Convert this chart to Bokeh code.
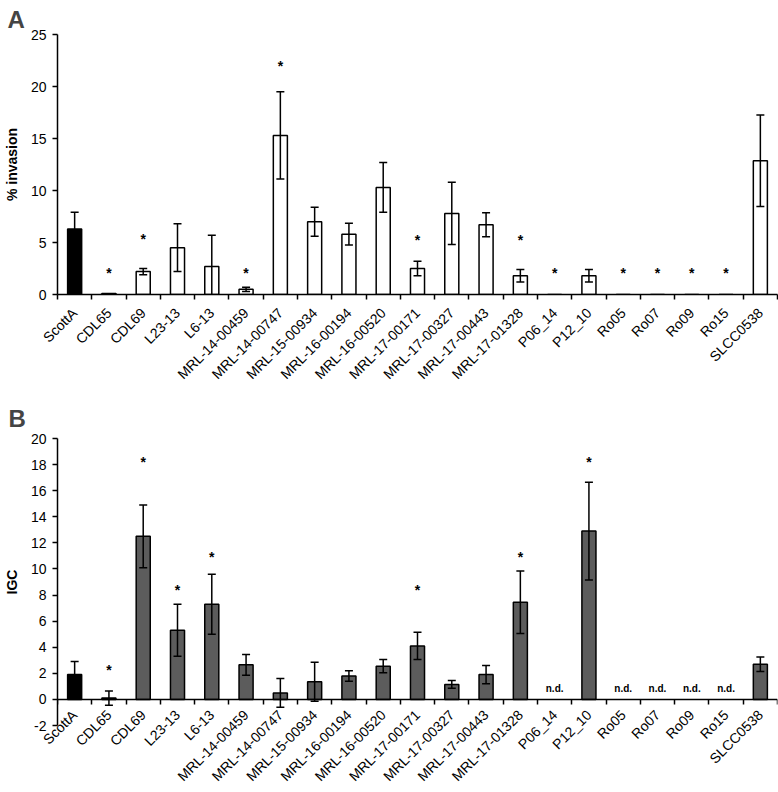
import math
from bokeh.plotting import figure
from bokeh.layouts import column
from bokeh.models import (Range1d, LinearAxis, FixedTicker, SingleIntervalTicker,
                          Whisker, TeeHead, ColumnDataSource)
from bokeh.core.properties import value
from bokeh.embed import file_html
from bokeh.resources import INLINE

# ---------------- data ----------------
strains = ["ScottA", "CDL65", "CDL69", "L23-13", "L6-13", "MRL-14-00459", "MRL-14-00747",
           "MRL-15-00934", "MRL-16-00194", "MRL-16-00520", "MRL-17-00171", "MRL-17-00327",
           "MRL-17-00443", "MRL-17-01328", "P06_14", "P12_10", "Ro05", "Ro07", "Ro09",
           "Ro15", "SLCC0538"]
reference_strain = "ScottA"

# Panel A: % invasion (mean, SD)
invasion = [6.3, 0.1, 2.2, 4.5, 2.7, 0.5, 15.3, 7.0, 5.8, 10.3, 2.5, 7.8, 6.7, 1.8,
            0.0, 1.8, 0.0, 0.0, 0.0, 0.0, 12.85]
invasion_err = [1.6, 0.0, 0.3, 2.3, 3.0, 0.2, 4.2, 1.4, 1.05, 2.4, 0.7, 3.0, 1.15, 0.6,
                0.0, 0.6, 0.0, 0.0, 0.0, 0.0, 4.4]
# height of the significance asterisk (None = not significant)
invasion_star = [None, 2.1, 5.3, None, None, 2.1, 22.0, None, None, None, 5.2, None, None,
                 5.2, 2.1, None, 2.1, 2.1, 2.1, 2.1, None]

# Panel B: IGC (mean, SD); None = n.d.
igc = [1.9, 0.1, 12.5, 5.3, 7.3, 2.65, 0.5, 1.35, 1.8, 2.55, 4.1, 1.15, 1.9, 7.45,
       None, 12.9, None, None, None, None, 2.7]
igc_err = [1.0, 0.55, 2.4, 2.0, 2.3, 0.8, 1.1, 1.5, 0.4, 0.5, 1.05, 0.3, 0.7, 2.4,
           None, 3.75, None, None, None, None, 0.56]
igc_star = [None, 2.25, 18.2, 8.4, 10.9, None, None, None, None, None, 8.4, None, None,
            10.9, None, 18.2, None, None, None, None, None]
nd_label = "n.d."

FONT = "Liberation Sans"
N = len(strains)
centers = [i + 0.5 for i in range(N)]          # category slot centres
edges = list(range(N + 1))                       # category slot boundaries


def make_panel(letter, ylabel, vals, errs, stars, ymin, ymax, step, bar_color,
               height, top, bottom, title_standoff, title_offset):
    p = figure(width=778, height=height,
               x_range=Range1d(0, N), y_range=Range1d(ymin, ymax),
               x_axis_location=None, output_backend="svg", toolbar_location=None,
               min_border_left=51, min_border_right=1,
               min_border_top=top, min_border_bottom=bottom)
    p.xgrid.visible = False
    p.ygrid.visible = False
    p.outline_line_color = None

    # title letter
    p.title.text = letter
    p.title.text_font = FONT
    p.title.text_font_size = "24px"
    p.title.text_font_style = "bold"
    p.title.align = "left"
    p.title.offset = title_offset
    p.title.standoff = title_standoff

    # y axis
    ya = p.yaxis[0]
    ya.ticker = SingleIntervalTicker(interval=step)
    ya.axis_label = ylabel
    ya.axis_label_text_font = FONT
    ya.axis_label_text_font_size = "14px"
    ya.axis_label_text_font_style = "bold"
    ya.axis_label_text_color = "black"
    ya.axis_label_standoff = 8
    ya.major_label_text_font = FONT
    ya.major_label_text_font_size = "14px"
    ya.major_label_text_color = "black"
    ya.major_label_standoff = 6
    ya.major_label_overrides = {t: str(t) for t in range(ymin, ymax + 1, step)}
    ya.major_tick_out = 5
    ya.major_tick_in = 0
    ya.minor_tick_line_color = None
    ya.axis_line_width = 1.5
    ya.major_tick_line_width = 1.5

    # bars
    bx, btop, bcol = [], [], []
    for c, s, v in zip(centers, strains, vals):
        if v is not None:
            bx.append(c)
            btop.append(v)
            bcol.append("black" if s == reference_strain else bar_color)
    p.vbar(x=bx, top=btop, bottom=0, width=0.41, fill_color=bcol,
           line_color="black", line_width=1.5)

    # error bars
    ex, up, lo = [], [], []
    for c, v, e in zip(centers, vals, errs):
        if v is not None and e:
            ex.append(c)
            up.append(v + e)
            lo.append(v - e)
    src = ColumnDataSource(dict(x=ex, upper=up, lower=lo))
    w = Whisker(base="x", upper="upper", lower="lower", source=src,
                line_color="black", line_width=1.5, level="overlay",
                upper_head=TeeHead(size=8, line_width=1.5, line_color="black"),
                lower_head=TeeHead(size=8, line_width=1.5, line_color="black"))
    p.add_layout(w)

    # significance asterisks
    sx = [c for c, y in zip(centers, stars) if y is not None]
    sy = [y for y in stars if y is not None]
    p.text(x=sx, y=sy, text=["*"] * len(sx), text_font=value(FONT),
           text_font_size="14px", text_font_style="bold", text_color="black",
           text_align="center", text_baseline="alphabetic")
    return p


def label_axis(standoff, with_edges):
    ticker = FixedTicker(ticks=centers, minor_ticks=edges if with_edges else [])
    ax = LinearAxis(ticker=ticker,
                    major_label_overrides={c: s for c, s in zip(centers, strains)},
                    major_tick_line_color=None, major_tick_out=0, major_tick_in=0,
                    minor_tick_out=5, minor_tick_in=0, minor_tick_line_width=1.5,
                    axis_line_width=1.5,
                    major_label_orientation=math.pi / 4,
                    major_label_standoff=standoff,
                    major_label_text_font=FONT,
                    major_label_text_font_size="14px",
                    major_label_text_color="black")
    if not with_edges:
        ax.axis_line_color = None
        ax.minor_tick_line_color = None
    return ax


pA = make_panel("A", "% invasion", invasion, invasion_err, invasion_star,
                0, 25, 5, "white", height=390, top=34, bottom=95,
                title_standoff=4, title_offset=-50)
pA.add_layout(label_axis(11, True), "below")

pB = make_panel("B", "IGC", igc, igc_err, igc_star,
                -2, 20, 2, "#5c5c5c", height=402, top=48, bottom=66,
                title_standoff=13, title_offset=-49)
# zero line with category boundary ticks
zero_axis = LinearAxis(fixed_location=0, ticker=FixedTicker(ticks=[], minor_ticks=edges),
                       major_tick_line_color=None, minor_tick_out=5, minor_tick_in=0,
                       minor_tick_line_width=1.5, axis_line_width=1.5)
pB.add_layout(zero_axis, "below")
pB.add_layout(label_axis(-13, False), "below")

# n.d. labels in panel B
ndx = [c for c, v in zip(centers, igc) if v is None]
pB.text(x=ndx, y=[0] * len(ndx), text=[nd_label] * len(ndx), text_font=value(FONT),
        text_font_size="10px", text_font_style="bold", text_color="black",
        text_align="center", text_baseline="bottom", y_offset=-5)

layout = column(pA, pB, spacing=0)
open("out.html", "w").write(file_html(layout, INLINE))
